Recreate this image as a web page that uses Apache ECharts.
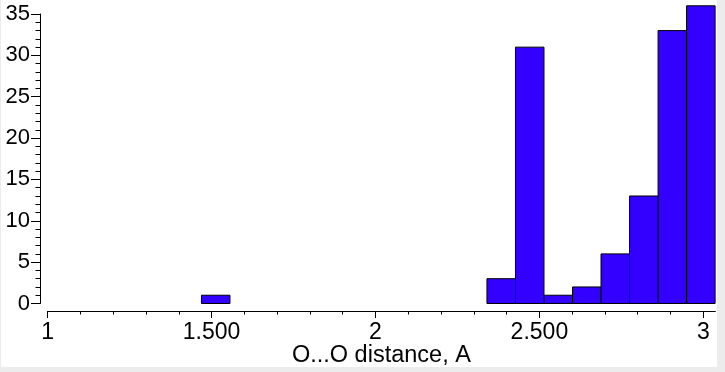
<!DOCTYPE html>
<html>
<head>
<meta charset="utf-8">
<script src="https://cdn.jsdelivr.net/npm/echarts@6/dist/echarts.min.js"></script>
<style>
  html, body { margin: 0; padding: 0; background: #ececec; width: 725px; height: 372px; overflow: hidden; }
  #chart { position: absolute; left: 1px; top: 0; width: 716px; height: 367px; background: #ffffff; }
</style>
</head>
<body>
<div id="chart"></div>
<script>
// Histogram bin edges (O...O distance, A)
var binEdges = [1.469, 1.556, 1.643, 1.730, 1.817, 1.904, 1.991, 2.078, 2.165, 2.253,
                2.340, 2.427, 2.514, 2.601, 2.688, 2.775, 2.862, 2.949, 3.036];
// Counts per bin
var counts = [1, 0, 0, 0, 0, 0, 0, 0, 0, 0, 3, 31, 1, 2, 6, 13, 33, 36];

// Axis tick values / labels
var xMajorTicks = [1, 1.5, 2, 2.5, 3];
var xMajorLabels = ['1', '1.500', '2', '2.500', '3'];
var xMinorTicks = [1.1, 1.2, 1.3, 1.4, 1.6, 1.7, 1.8, 1.9, 2.1, 2.2, 2.3, 2.4, 2.6, 2.7, 2.8, 2.9];
var yTickLabels = ['0', '5', '10', '15', '20', '25', '30', '35'];

var xTitle = 'O...O distance, A';

var FONT = '"Liberation Sans", Arial, Helvetica, sans-serif';

var data = [];
for (var i = 0; i < counts.length; i++) {
  data.push([binEdges[i], binEdges[i + 1], counts[i]]);
}

var chart = echarts.init(document.getElementById('chart'), null, { renderer: 'canvas' });

var plotGrid = { left: 46.7, right: 1.9, top: 5.8, bottom: 63.5, containLabel: false, outerBoundsMode: 'none' };

var xCommon = {
  type: 'value', min: 1, max: 3.036, position: 'bottom', offset: 7.5,
  splitLine: { show: false },
  axisLine: { show: true, onZero: false, lineStyle: { color: '#000', width: 1 } }
};

chart.setOption({
  animation: false,
  backgroundColor: '#ffffff',
  grid: [
    plotGrid,
    { left: 39, width: 10, top: 14, bottom: 63.5, containLabel: false, outerBoundsMode: 'none' },
    Object.assign({}, plotGrid)
  ],
  xAxis: [
    Object.assign({}, xCommon, {
      gridIndex: 0,
      name: xTitle,
      nameLocation: 'middle',
      nameGap: 33,
      nameMoveOverlap: false,
      nameTextStyle: { color: '#000', fontFamily: FONT, fontSize: 23.5 },
      axisTick: { show: true, inside: false, length: 7, customValues: xMajorTicks, lineStyle: { color: '#000' } },
      axisLabel: {
        show: true, customValues: xMajorTicks, margin: 10,
        color: '#000', fontFamily: FONT, fontSize: 23,
        formatter: function (v) {
          for (var k = 0; k < xMajorTicks.length; k++) {
            if (Math.abs(xMajorTicks[k] - v) < 1e-6) return xMajorLabels[k];
          }
          return '';
        }
      }
    }),
    { type: 'value', gridIndex: 1, show: false, min: 0, max: 1 },
    Object.assign({}, xCommon, {
      gridIndex: 2,
      axisTick: { show: true, inside: false, length: 3.5, customValues: xMinorTicks, lineStyle: { color: '#000' } },
      axisLabel: { show: false }
    })
  ],
  yAxis: [
    { type: 'value', gridIndex: 0, min: 0, max: 36, show: false },
    {
      type: 'value', gridIndex: 1, min: 0, max: 35, interval: 5, position: 'left',
      splitLine: { show: false },
      axisLine: { show: true, onZero: false, lineStyle: { color: '#000', width: 1 } },
      axisTick: { show: true, inside: false, length: 9, lineStyle: { color: '#000' } },
      minorTick: { show: true, splitNumber: 5, length: 4.5, lineStyle: { color: '#000' } },
      axisLabel: {
        margin: 10, color: '#000', fontFamily: FONT, fontSize: 22,
        formatter: function (v) { return yTickLabels[Math.round(v / 5)]; }
      }
    },
    { type: 'value', gridIndex: 2, min: 0, max: 36, show: false }
  ],
  series: [{
    type: 'custom',
    xAxisIndex: 0, yAxisIndex: 0,
    clip: false,
    data: data,
    encode: { x: [0, 1], y: 2 },
    renderItem: function (params, api) {
      var c = api.value(2);
      if (!c) return null;
      var p0 = api.coord([api.value(0), c]);
      var p1 = api.coord([api.value(1), 0]);
      return {
        type: 'rect',
        shape: { x: p0[0], y: p0[1], width: p1[0] - p0[0], height: p1[1] - p0[1] },
        style: { fill: '#3300ff', stroke: '#000000', lineWidth: 1 }
      };
    }
  }]
});
</script>
</body>
</html>
